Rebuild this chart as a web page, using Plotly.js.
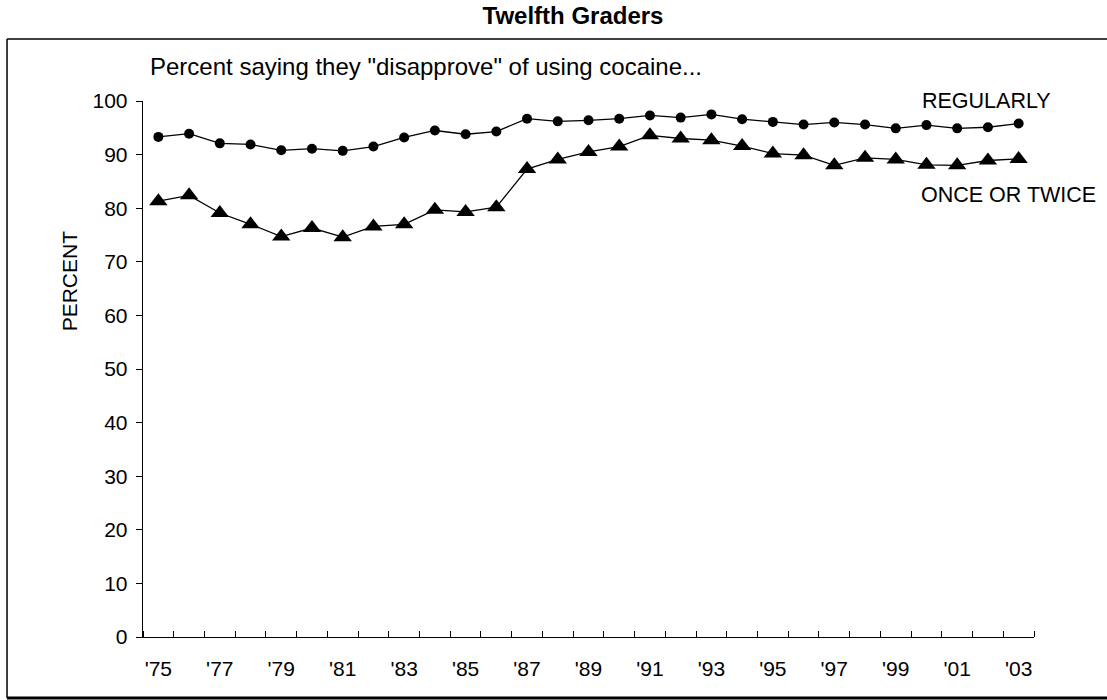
<!DOCTYPE html>
<html>
<head>
<meta charset="utf-8">
<script src="https://cdn.plot.ly/plotly-3.0.1.min.js"></script>
<style>
  html, body { margin: 0; padding: 0; background: #ffffff; }
  #chart { width: 1107px; height: 700px; }
</style>
</head>
<body>
<div id="chart"></div>
<script>
// Survey years (1975-2003)
const years = [1975,1976,1977,1978,1979,1980,1981,1982,1983,1984,1985,1986,1987,1988,1989,
               1990,1991,1992,1993,1994,1995,1996,1997,1998,1999,2000,2001,2002,2003];

// Percent disapproving of using cocaine regularly
const regularly = [93.3,93.9,92.1,91.9,90.8,91.1,90.7,91.5,93.2,94.5,93.8,94.3,96.7,96.2,96.4,
                   96.7,97.3,96.9,97.5,96.6,96.1,95.6,96.0,95.6,94.9,95.5,94.9,95.1,95.8];

// Percent disapproving of trying cocaine once or twice
const onceOrTwice = [81.3,82.4,79.1,77.0,74.7,76.3,74.6,76.6,77.0,79.7,79.3,80.2,87.3,89.1,90.5,
                     91.5,93.6,93.0,92.7,91.6,90.2,89.9,88.0,89.4,89.1,88.1,88.0,88.9,89.2];

// Tick labels
const xTickYears = [1975,1977,1979,1981,1983,1985,1987,1989,1991,1993,1995,1997,1999,2001,2003];
const xTickLabels = ["'75","'77","'79","'81","'83","'85","'87","'89","'91","'93","'95","'97","'99","'01","'03"];
const yTickVals = [0,10,20,30,40,50,60,70,80,90,100];

// Texts
const chartTitle = "Twelfth Graders";
const subTitle = "Percent saying they \"disapprove\" of using cocaine...";
const yTitle = "PERCENT";
const seriesNames = ["REGULARLY", "ONCE OR TWICE"];

const FONT = "'Liberation Sans', Arial, Helvetica, sans-serif";

// category boundaries for the small ticks between years
const boundaries = years.map(y => y - 0.5).concat([years[years.length - 1] + 0.5]);

const traces = [
  {
    x: years, y: regularly, name: seriesNames[0], type: 'scatter', mode: 'lines+markers',
    line: { color: '#000000', width: 1.3 },
    marker: { symbol: 'circle', size: 10, color: '#000000' },
    showlegend: false, hoverinfo: 'x+y'
  },
  {
    x: years, y: onceOrTwice, name: seriesNames[1], type: 'scatter', mode: 'lines+markers',
    line: { color: '#000000', width: 1.3 },
    marker: { symbol: 'triangle-up', size: 16, color: '#000000' },
    showlegend: false, hoverinfo: 'x+y'
  }
];

const layout = {
  width: 1107, height: 700,
  paper_bgcolor: '#ffffff', plot_bgcolor: '#ffffff',
  margin: { l: 143, r: 73, t: 101, b: 63, pad: 0 },
  font: { family: FONT, size: 21, color: '#000000' },
  title: {
    text: '<b>' + chartTitle + '</b>',
    font: { family: FONT, size: 24, color: '#000000' },
    x: 573 / 1107, xref: 'container', xanchor: 'center',
    y: 1 - 16 / 700, yref: 'container', yanchor: 'middle'
  },
  xaxis: {
    range: [years[0] - 0.5, years[years.length - 1] + 0.5],
    tickmode: 'array', tickvals: xTickYears, ticktext: xTickLabels,
    ticks: 'outside', ticklen: 12, tickcolor: 'rgba(0,0,0,0)',
    minor: { tickmode: 'array', tickvals: boundaries, ticks: 'inside', ticklen: 6, tickcolor: '#000000', tickwidth: 1, showgrid: false },
    showline: true, linecolor: '#000000', linewidth: 1.3,
    showgrid: false, zeroline: false, fixedrange: true,
    tickfont: { family: FONT, size: 21, color: '#000000' }
  },
  yaxis: {
    range: [0, 100],
    tickmode: 'array', tickvals: yTickVals,
    ticks: 'outside', ticklen: 6, tickcolor: '#000000', tickwidth: 1,
    ticklabelstandoff: 4,
    showline: true, linecolor: '#000000', linewidth: 1.3,
    showgrid: false, zeroline: false, fixedrange: true,
    tickfont: { family: FONT, size: 21, color: '#000000' }
  },
  annotations: [
    { xref: 'paper', yref: 'paper', x: (148 - 143) / 891, y: (636 - 67) / 535, xanchor: 'left', yanchor: 'middle',
      text: subTitle, showarrow: false, font: { family: FONT, size: 24, color: '#000000' } },
    { xref: 'paper', yref: 'paper', x: (1053 - 143) / 891, y: (636 - 101) / 535, xanchor: 'right', yanchor: 'middle',
      text: seriesNames[0], showarrow: false, font: { family: FONT, size: 21.5, color: '#000000' } },
    { xref: 'paper', yref: 'paper', x: (1008 - 143) / 891, y: (636 - 195) / 535, xanchor: 'center', yanchor: 'middle',
      text: seriesNames[1], showarrow: false, font: { family: FONT, size: 21.5, color: '#000000' } },
    { xref: 'paper', yref: 'paper', x: (69 - 143) / 891, y: (636 - 281) / 535, xanchor: 'center', yanchor: 'middle',
      textangle: -90, text: yTitle, showarrow: false, font: { family: FONT, size: 21, color: '#000000' } }
  ],
  shapes: [
    // outer frame: left, top, bottom
    { type: 'line', xref: 'paper', yref: 'paper', x0: -0.1526, x1: -0.1526, y0: 1.1157, y1: -0.1138, line: { color: '#000000', width: 1.5 } },
    { type: 'line', xref: 'paper', yref: 'paper', x0: -0.1526, x1: 1.1, y0: 1.1157, y1: 1.1157, line: { color: '#000000', width: 1.5 } },
    { type: 'line', xref: 'paper', yref: 'paper', x0: -0.1526, x1: 1.1, y0: -0.1138, y1: -0.1138, line: { color: '#000000', width: 3 } }
  ]
};

Plotly.newPlot('chart', traces, layout, { displayModeBar: false, staticPlot: true });
</script>
</body>
</html>
